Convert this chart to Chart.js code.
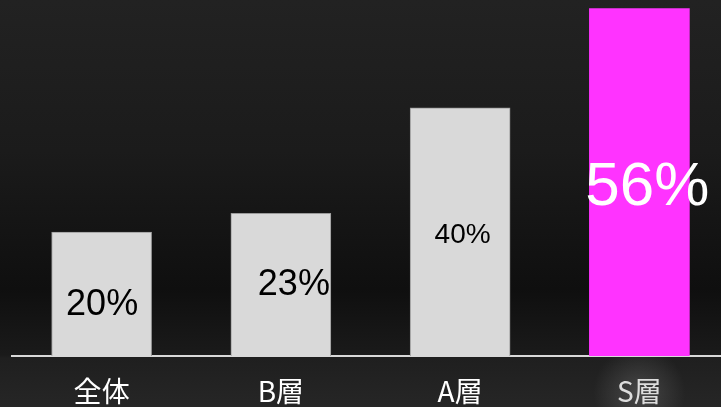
<!DOCTYPE html>
<html>
<head>
<meta charset="utf-8">
<script src="https://cdn.jsdelivr.net/npm/chart.js@4/dist/chart.umd.min.js"></script>
<style>
  html, body { margin: 0; padding: 0; overflow: hidden; width: 721px; height: 407px; background: #1e1e1e; }
  canvas { display: block; }
</style>
</head>
<body>
<canvas id="myChart" width="729" height="407" style="width:729px;height:407px"></canvas>
<script>
const categories = ['全体', 'B層', 'A層', 'S層'];
const values = [20, 23, 40, 56];
const valueLabels = values.map(v => v + '%');

// background gradient + soft glow under the last category label
const backgroundPlugin = {
    id: 'background',
    beforeDraw(chart) {
        const { ctx, width, height } = chart;
        const g = ctx.createLinearGradient(0, 0, 0, height);
        g.addColorStop(0, '#222222');
        g.addColorStop(0.37, '#1b1b1b');
        g.addColorStop(0.71, '#0f0f0f');
        g.addColorStop(0.872, '#1a1a1a');
        g.addColorStop(0.88, '#1f1f1f');
        g.addColorStop(1, '#262626');
        ctx.save();
        ctx.fillStyle = g;
        ctx.fillRect(0, 0, width, height);

        const x = chart.scales.x.getPixelForValue(categories.length - 1);
        const y = 392;
        const r = ctx.createRadialGradient(x, y, 0, x, y, 46);
        r.addColorStop(0, 'rgba(255,255,255,0.16)');
        r.addColorStop(1, 'rgba(255,255,255,0)');
        ctx.fillStyle = r;
        ctx.fillRect(x - 50, y - 50, 100, 100);
        ctx.restore();
    }
};

// value text inside each bar, each with its own size and nudge
const valueLabelPlugin = {
    id: 'valueLabels',
    afterDatasetsDraw(chart, args, opts) {
        const { ctx } = chart;
        const meta = chart.getDatasetMeta(0);
        ctx.save();
        ctx.textAlign = 'center';
        ctx.textBaseline = 'alphabetic';
        meta.data.forEach((bar, i) => {
            const size = opts.sizes[i];
            const cx = bar.x + opts.dx[i];
            const cy = (bar.y + bar.base) / 2 + opts.dy[i];
            ctx.font = size + 'px "Liberation Sans", Arial, sans-serif';
            ctx.fillStyle = opts.colors[i];
            ctx.fillText(valueLabels[i], cx, cy + size * 0.358);
        });
        ctx.restore();
    }
};

new Chart(document.getElementById('myChart'), {
    type: 'bar',
    data: {
        labels: categories,
        datasets: [{
            data: values,
            backgroundColor: ['#d9d9d9', '#d9d9d9', '#d9d9d9', '#ff33ff'],
            borderColor: '#9a9a9a',
            borderWidth: [1, 1, 1, 0],
            barThickness: 100
        }]
    },
    options: {
        responsive: false,
        animation: false,
        layout: { padding: { left: 12, right: 0, top: 0, bottom: 0 } },
        plugins: {
            legend: { display: false },
            tooltip: { enabled: false },
            valueLabels: {
                sizes: [36, 36, 28, 62],
                colors: ['#000000', '#000000', '#000000', '#ffffff'],
                dx: [0.5, 13, 2.5, 8],
                dy: [8, -3, 1.5, 0]
            }
        },
        scales: {
            x: {
                grid: { display: false, drawTicks: false },
                border: { display: true, color: '#d9d9d9', width: 2 },
                ticks: {
                    color: ['#ffffff', '#ffffff', '#ffffff', '#dddddd'],
                    font: { family: '"Noto Sans CJK JP", sans-serif', size: 28, lineHeight: 1 },
                    padding: 21
                },
                afterFit(scale) { scale.height = 51; }
            },
            y: { display: false, min: 0, max: 57.4 }
        }
    },
    plugins: [backgroundPlugin, valueLabelPlugin]
});
</script>
</body>
</html>
